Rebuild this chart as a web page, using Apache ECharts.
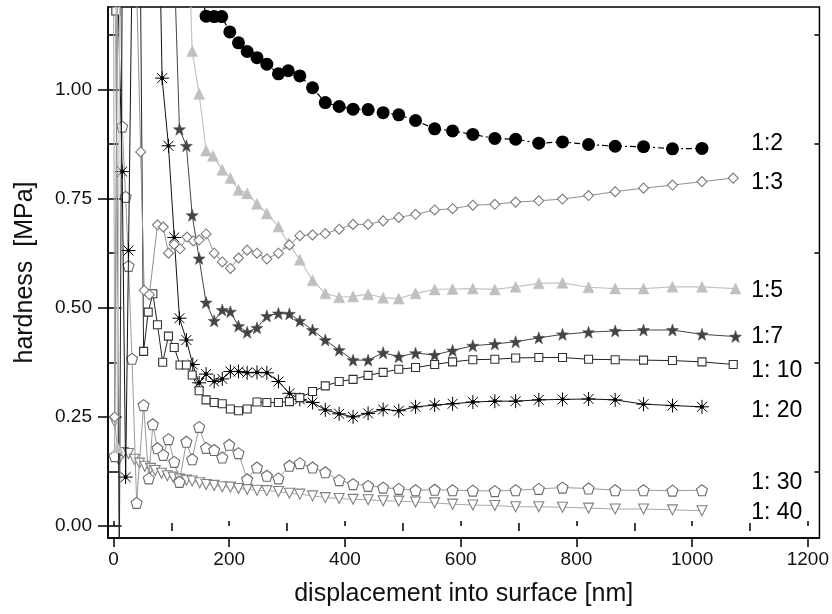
<!DOCTYPE html>
<html>
<head>
<meta charset="utf-8">
<script src="https://cdn.jsdelivr.net/npm/echarts@6/dist/echarts.min.js"></script>
<style>
html,body{margin:0;padding:0;background:#fff;}
#chart{width:832px;height:614px;}
</style>
</head>
<body>
<div id="chart"></div>
<script>
// ---- data (displacement in nm, hardness in MPa) ----
const seriesNames = ['1:2', '1:3', '1:5', '1:7', '1: 10', '1: 20', '1: 30', '1: 40'];

const x_1_2 = [148, 160, 174, 187, 201, 216, 231, 248, 265, 285, 302, 322, 344, 366, 390, 414, 440, 466, 493, 522, 555, 586, 621, 659, 695, 735, 776, 821, 867, 916, 966, 1017];
const y_1_2 = [1.25, 1.168, 1.167, 1.167, 1.132, 1.107, 1.087, 1.073, 1.058, 1.036, 1.043, 1.031, 1.004, 0.970, 0.961, 0.955, 0.954, 0.947, 0.942, 0.929, 0.910, 0.905, 0.897, 0.888, 0.886, 0.877, 0.880, 0.874, 0.870, 0.869, 0.864, 0.865];

const x_1_3 = [2, 8, 35, 47, 53, 62, 76, 86, 95, 105, 115, 127, 138, 148, 160, 174, 188, 202, 216, 231, 248, 265, 285, 304, 322, 344, 366, 390, 414, 440, 466, 493, 522, 555, 586, 621, 659, 695, 735, 776, 821, 867, 916, 966, 1017, 1071];
const y_1_3 = [0.25, 1.5, 1.5, 0.857, 0.54, 0.53, 0.690, 0.685, 0.625, 0.645, 0.635, 0.662, 0.653, 0.655, 0.669, 0.625, 0.605, 0.590, 0.614, 0.632, 0.625, 0.612, 0.625, 0.644, 0.665, 0.667, 0.670, 0.680, 0.691, 0.691, 0.699, 0.707, 0.714, 0.724, 0.727, 0.735, 0.737, 0.742, 0.745, 0.749, 0.757, 0.766, 0.774, 0.781, 0.789, 0.797];

const x_1_5 = [3, 7, 12, 124, 136, 148, 160, 172, 188, 202, 216, 231, 248, 265, 285, 302, 322, 344, 366, 390, 414, 440, 466, 493, 522, 555, 586, 621, 659, 695, 735, 776, 821, 867, 916, 966, 1017, 1075];
const y_1_5 = [1.6, 0.18, 1.6, 1.6, 1.088, 0.990, 0.860, 0.848, 0.816, 0.797, 0.770, 0.762, 0.738, 0.716, 0.686, 0.648, 0.610, 0.563, 0.533, 0.524, 0.526, 0.531, 0.523, 0.521, 0.533, 0.542, 0.543, 0.544, 0.542, 0.548, 0.556, 0.557, 0.547, 0.544, 0.544, 0.548, 0.548, 0.544];

const x_1_7 = [100, 114, 126, 136, 148, 160, 174, 188, 202, 216, 231, 248, 265, 285, 304, 322, 344, 366, 390, 414, 440, 466, 493, 522, 555, 586, 621, 659, 695, 735, 776, 821, 867, 916, 966, 1017, 1075];
const y_1_7 = [1.5, 0.909, 0.871, 0.712, 0.613, 0.512, 0.470, 0.495, 0.491, 0.458, 0.444, 0.454, 0.481, 0.487, 0.486, 0.470, 0.449, 0.426, 0.403, 0.380, 0.380, 0.397, 0.388, 0.396, 0.392, 0.402, 0.413, 0.417, 0.422, 0.431, 0.439, 0.444, 0.447, 0.449, 0.449, 0.439, 0.434];

const x_1_10 = [4, 10, 16, 45, 52, 60, 68, 76, 85, 95, 105, 115, 126, 136, 148, 160, 174, 188, 202, 216, 231, 248, 265, 285, 304, 322, 344, 366, 390, 414, 440, 466, 493, 522, 555, 586, 621, 659, 695, 735, 776, 821, 867, 916, 966, 1017, 1071];
const y_1_10 = [1.18, -0.1, 1.5, 1.5, 0.40, 0.49, 0.532, 0.461, 0.375, 0.435, 0.409, 0.369, 0.369, 0.346, 0.31, 0.289, 0.283, 0.280, 0.268, 0.264, 0.268, 0.284, 0.283, 0.283, 0.285, 0.294, 0.308, 0.321, 0.331, 0.336, 0.345, 0.352, 0.359, 0.363, 0.370, 0.376, 0.381, 0.382, 0.385, 0.386, 0.386, 0.382, 0.381, 0.380, 0.379, 0.376, 0.370];

const x_1_20 = [1, 15, 21, 26, 35, 76, 84, 95, 105, 114, 126, 137, 148, 160, 174, 188, 202, 216, 231, 248, 265, 285, 304, 322, 344, 366, 390, 414, 440, 466, 493, 522, 555, 586, 621, 659, 695, 735, 776, 821, 867, 916, 966, 1017];
const y_1_20 = [1.6, 0.812, 0.112, 0.631, 1.6, 1.6, 1.026, 0.871, 0.661, 0.476, 0.426, 0.370, 0.328, 0.348, 0.331, 0.337, 0.354, 0.354, 0.351, 0.352, 0.351, 0.331, 0.304, 0.290, 0.283, 0.266, 0.257, 0.250, 0.258, 0.267, 0.264, 0.273, 0.277, 0.280, 0.284, 0.286, 0.286, 0.289, 0.290, 0.291, 0.289, 0.279, 0.276, 0.273];

const x_1_30 = [2, 9, 15, 21, 26, 32, 40, 52, 61, 68, 76, 86, 95, 105, 114, 126, 136, 148, 160, 174, 188, 200, 216, 231, 248, 265, 285, 304, 322, 344, 366, 390, 414, 440, 466, 493, 522, 555, 586, 621, 659, 695, 735, 776, 821, 867, 916, 966, 1017];
const y_1_30 = [0.16, 1.6, 0.915, 0.754, 0.596, 0.383, 0.053, 0.277, 0.109, 0.233, 0.178, 0.163, 0.199, 0.147, 0.101, 0.193, 0.153, 0.227, 0.179, 0.174, 0.157, 0.186, 0.167, 0.107, 0.134, 0.115, 0.109, 0.138, 0.144, 0.134, 0.123, 0.105, 0.096, 0.092, 0.088, 0.085, 0.082, 0.083, 0.082, 0.081, 0.080, 0.082, 0.085, 0.088, 0.086, 0.082, 0.082, 0.081, 0.082];

const x_1_40 = [0, 2, 9, 17, 26, 36, 45, 54, 64, 72, 83, 93, 103, 114, 126, 136, 149, 160, 174, 188, 202, 216, 231, 248, 265, 285, 304, 322, 344, 366, 390, 414, 440, 466, 493, 522, 555, 586, 621, 659, 695, 735, 776, 821, 867, 916, 966, 1017];
const y_1_40 = [1.4, 0.239, 0.151, 0.168, 0.166, 0.153, 0.144, 0.137, 0.132, 0.127, 0.121, 0.115, 0.112, 0.108, 0.105, 0.103, 0.099, 0.095, 0.093, 0.090, 0.089, 0.086, 0.084, 0.082, 0.081, 0.079, 0.075, 0.073, 0.069, 0.065, 0.063, 0.061, 0.060, 0.058, 0.057, 0.055, 0.053, 0.050, 0.048, 0.047, 0.044, 0.044, 0.043, 0.041, 0.039, 0.039, 0.037, 0.035];

// axis ticks
const xMajorTicks = [0, 200, 400, 600, 800, 1000, 1200];
const xMinorTicks = [100, 300, 500, 700, 900, 1100];
const yMajorTicks = [0, 0.25, 0.5, 0.75, 1.0];
const yMinorTicks = [0.125, 0.375, 0.625, 0.875, 1.125];

// y position (MPa) of each series tag at the right
const tagValues = [0.875, 0.786, 0.539, 0.433, 0.355, 0.265, 0.099, 0.030];

// ---- chart ----
const X_MIN = -9.5, X_MAX = 1220, Y_MIN = -0.0275, Y_MAX = 1.189;
const FONT = 'Arial, "Liberation Sans", Helvetica, sans-serif';

function pairs(xs, ys) { return xs.map((x, i) => [x, ys[i]]); }

const asterisk = 'path://M0,-10L0,10M-10,0L10,0M-7.07,-7.07L7.07,7.07M-7.07,7.07L7.07,-7.07M-1.8,-1.8L1.8,-1.8L1.8,1.8L-1.8,1.8Z';
const pentagon = 'path://M0,-10L9.51,-3.09L5.88,8.09L-5.88,8.09L-9.51,-3.09Z';
const star5 = 'path://M0,-10L2.35,-3.24L9.51,-3.09L3.80,1.24L5.88,8.09L0,4L-5.88,8.09L-3.80,1.24L-9.51,-3.09L-2.35,-3.24Z';

const chart = echarts.init(document.getElementById('chart'), null, {renderer: 'canvas'});

function xAx(extra) {
  return Object.assign({
    type: 'value', min: X_MIN, max: X_MAX, position: 'bottom',
    axisLine: {show: false}, splitLine: {show: false},
    axisLabel: {show: false}, axisTick: {show: false}
  }, extra);
}
function yAx(extra) {
  return Object.assign({
    type: 'value', min: Y_MIN, max: Y_MAX, position: 'left',
    axisLine: {show: false}, splitLine: {show: false},
    axisLabel: {show: false}, axisTick: {show: false}
  }, extra);
}

const tickStyle = {color: '#000', width: 1.5};

const option = {
  animation: false,
  backgroundColor: '#fff',
  grid: {left: 108, right: 11, top: 7, bottom: 76, containLabel: false,
         show: true, borderColor: '#000', borderWidth: 1.5, backgroundColor: 'transparent'},
  xAxis: [
    xAx({
      axisLine: {show: true, onZero: false, lineStyle: {color: '#000', width: 1.5}},
      axisTick: {show: true, customValues: xMajorTicks, length: 9, lineStyle: tickStyle},
      axisLabel: {show: true, customValues: xMajorTicks, margin: 12, fontSize: 19, color: '#111', fontFamily: FONT,
                  formatter: v => String(v)},
      name: 'displacement into surface [nm]', nameLocation: 'middle', nameGap: 44,
      nameTextStyle: {fontSize: 25, color: '#111', fontFamily: FONT}
    }),
    xAx({axisTick: {show: true, customValues: xMinorTicks, length: 5, lineStyle: tickStyle}}),
    xAx({axisTick: {show: true, inside: true, customValues: xMajorTicks, length: 5, lineStyle: tickStyle}}),
    xAx({axisTick: {show: true, inside: true, customValues: xMinorTicks, length: 3, lineStyle: tickStyle}})
  ],
  yAxis: [
    yAx({
      axisLine: {show: true, onZero: false, lineStyle: {color: '#000', width: 1.5}},
      axisTick: {show: true, customValues: yMajorTicks, length: 10, lineStyle: tickStyle},
      axisLabel: {show: true, customValues: yMajorTicks, margin: 16, fontSize: 19, color: '#111', fontFamily: FONT,
                  formatter: v => v.toFixed(2)},
      name: 'hardness  [MPa]', nameLocation: 'middle', nameGap: 70,
      nameTextStyle: {fontSize: 25, color: '#111', fontFamily: FONT}
    }),
    yAx({axisTick: {show: true, customValues: yMinorTicks, length: 5, lineStyle: tickStyle}}),
    yAx({axisTick: {show: true, inside: true, customValues: yMajorTicks, length: 8, lineStyle: tickStyle}}),
    yAx({axisTick: {show: true, inside: true, customValues: yMinorTicks, length: 5, lineStyle: tickStyle}}),
    yAx({position: 'right', axisTick: {show: true, inside: true, customValues: yMajorTicks, length: 8, lineStyle: tickStyle}}),
    yAx({position: 'right', axisTick: {show: true, inside: true, customValues: yMinorTicks, length: 5, lineStyle: tickStyle}})
  ],
  series: [
    {name: seriesNames[7], type: 'line', data: pairs(x_1_40, y_1_40), symbol: 'triangle', symbolRotate: 180, symbolSize: 10,
     lineStyle: {color: '#a8a8a8', width: 1}, itemStyle: {color: '#fff', borderColor: '#808080', borderWidth: 1.1}, z: 2},
    {name: seriesNames[6], type: 'line', data: pairs(x_1_30, y_1_30), symbol: pentagon, symbolSize: 11,
     lineStyle: {color: '#999', width: 1}, itemStyle: {color: '#fff', borderColor: '#6a6a6a', borderWidth: 1.1}, z: 3},
    {name: seriesNames[5], type: 'line', data: pairs(x_1_20, y_1_20), symbol: asterisk, symbolSize: 14,
     lineStyle: {color: '#111', width: 1}, itemStyle: {color: '#000', borderColor: '#000', borderWidth: 1}, z: 4},
    {name: seriesNames[4], type: 'line', data: pairs(x_1_10, y_1_10), symbol: 'rect', symbolSize: 8,
     lineStyle: {color: '#222', width: 1}, itemStyle: {color: '#fff', borderColor: '#333', borderWidth: 1.1}, z: 5},
    {name: seriesNames[3], type: 'line', data: pairs(x_1_7, y_1_7), symbol: star5, symbolSize: 12,
     lineStyle: {color: '#444', width: 1}, itemStyle: {color: '#444', borderColor: '#444', borderWidth: 0.5}, z: 6},
    {name: seriesNames[2], type: 'line', data: pairs(x_1_5, y_1_5), symbol: 'triangle', symbolSize: 11,
     lineStyle: {color: '#c4c4c4', width: 1.2}, itemStyle: {color: '#c0c0c0', borderColor: '#c0c0c0', borderWidth: 0.5}, z: 7},
    {name: seriesNames[1], type: 'line', data: pairs(x_1_3, y_1_3), symbol: 'diamond', symbolSize: [10, 10],
     lineStyle: {color: '#909090', width: 1}, itemStyle: {color: '#fff', borderColor: '#7a7a7a', borderWidth: 1.1}, z: 8},
    {name: seriesNames[0], type: 'line', data: pairs(x_1_2, y_1_2), symbol: 'circle', symbolSize: 13,
     lineStyle: {color: '#000', width: 1.2, type: [6, 3, 2, 3]}, itemStyle: {color: '#000', borderColor: '#000', borderWidth: 0}, z: 9}
  ].map(s => Object.assign({xAxisIndex: 0, yAxisIndex: 0, showSymbol: true, showAllSymbol: true, clip: true, silent: true}, s))
};

chart.setOption(option);

// series tags at the right end, placed in data space via the axis scale
const tagX = 1102;
const graphics = seriesNames.map((name, i) => {
  const p = chart.convertToPixel({xAxisIndex: 0, yAxisIndex: 0}, [tagX, tagValues[i]]);
  return {type: 'text', x: p[0], y: p[1], z: 100,
          style: {text: name, font: '23px ' + FONT, fill: '#000', align: 'left', verticalAlign: 'middle'}};
});
chart.setOption({graphic: graphics});
</script>
</body>
</html>
